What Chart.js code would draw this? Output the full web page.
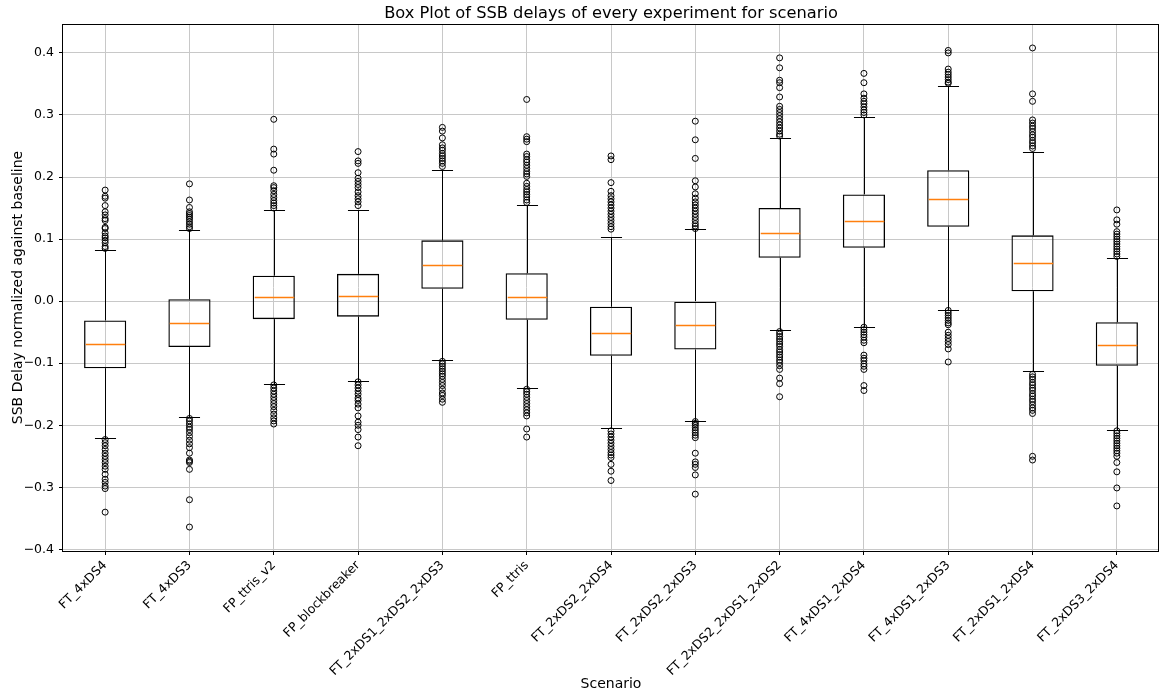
<!DOCTYPE html>
<html><head><meta charset="utf-8">
<script src="https://cdn.jsdelivr.net/npm/chart.js@4.4.1/dist/chart.umd.min.js"></script>
<style>html,body{margin:0;padding:0;background:#fff;}</style>
</head><body>
<canvas id="c" width="1164" height="693" style="display:block;width:1164px;height:693px"></canvas>
<script>
const categories = ["FT_4xDS4","FT_4xDS3","FP_ttris_v2","FP_blockbreaker","FT_2xDS1_2xDS2_2xDS3","FP_ttris","FT_2xDS2_2xDS4","FT_2xDS2_2xDS3","FT_2xDS2_2xDS1_2xDS2","FT_4xDS1_2xDS4","FT_4xDS1_2xDS3","FT_2xDS1_2xDS4","FT_2xDS3_2xDS4"];
const q1 = [-0.108,-0.074,-0.029,-0.025,0.020,-0.030,-0.088,-0.078,0.070,0.086,0.120,0.016,-0.104];
const median = [-0.069,-0.036,0.007,0.008,0.059,0.007,-0.051,-0.039,0.110,0.129,0.165,0.061,-0.070];
const q3 = [-0.031,0.003,0.041,0.044,0.098,0.045,-0.009,0.000,0.150,0.172,0.211,0.106,-0.034];
const whiskerLow = [-0.221,-0.187,-0.133,-0.128,-0.095,-0.140,-0.204,-0.193,-0.047,-0.041,-0.014,-0.113,-0.208];
const whiskerHigh = [0.082,0.114,0.147,0.147,0.211,0.155,0.104,0.116,0.263,0.297,0.347,0.241,0.070];
const outliersHigh = [
 [0.179,0.169,0.166,0.154,0.144,0.139,0.133,0.130,0.119,0.117,0.110,0.105,0.102,0.098,0.094,0.088,0.085],
 [0.189,0.163,0.151,0.144,0.141,0.138,0.135,0.132,0.128,0.124,0.120,0.117],
 [0.293,0.245,0.237,0.211,0.186,0.183,0.178,0.172,0.167,0.162,0.158,0.154,0.150],
 [0.241,0.226,0.222,0.207,0.198,0.193,0.188,0.183,0.176,0.170,0.165,0.160,0.154],
 [0.280,0.274,0.263,0.252,0.247,0.243,0.238,0.234,0.230,0.226,0.222,0.217],
 [0.325,0.265,0.261,0.257,0.237,0.233,0.228,0.224,0.219,0.214,0.209,0.205,0.201,0.190,0.185,0.180,0.176,0.172,0.168,0.163,0.159],
 [0.234,0.228,0.191,0.177,0.170,0.165,0.160,0.155,0.150,0.145,0.140,0.135,0.130,0.125,0.120,0.116],
 [0.290,0.260,0.230,0.194,0.184,0.173,0.166,0.160,0.155,0.150,0.145,0.140,0.135,0.130,0.125,0.121,0.117],
 [0.392,0.376,0.356,0.352,0.344,0.329,0.314,0.309,0.304,0.299,0.294,0.289,0.284,0.279,0.274,0.269,0.266],
 [0.367,0.352,0.334,0.327,0.322,0.318,0.313,0.308,0.304,0.300],
 [0.404,0.400,0.374,0.369,0.365,0.361,0.357,0.353,0.351],
 [0.408,0.334,0.322,0.292,0.287,0.282,0.278,0.273,0.268,0.264,0.259,0.255,0.250,0.246],
 [0.147,0.131,0.124,0.112,0.108,0.104,0.100,0.096,0.092,0.088,0.084,0.080,0.076,0.072]
];
const outliersLow = [
 [-0.223,-0.228,-0.233,-0.239,-0.245,-0.250,-0.255,-0.260,-0.266,-0.271,-0.279,-0.287,-0.292,-0.298,-0.302,-0.340],
 [-0.189,-0.193,-0.198,-0.203,-0.207,-0.212,-0.218,-0.224,-0.230,-0.236,-0.245,-0.256,-0.258,-0.260,-0.271,-0.320,-0.364],
 [-0.135,-0.140,-0.145,-0.150,-0.155,-0.160,-0.165,-0.170,-0.176,-0.182,-0.188,-0.193,-0.198],
 [-0.130,-0.135,-0.140,-0.145,-0.150,-0.156,-0.160,-0.166,-0.172,-0.185,-0.195,-0.200,-0.207,-0.219,-0.233],
 [-0.097,-0.101,-0.105,-0.109,-0.113,-0.117,-0.121,-0.126,-0.131,-0.136,-0.142,-0.148,-0.152,-0.158,-0.163],
 [-0.142,-0.146,-0.150,-0.155,-0.160,-0.165,-0.170,-0.175,-0.180,-0.185,-0.206,-0.219],
 [-0.209,-0.214,-0.219,-0.224,-0.229,-0.234,-0.239,-0.244,-0.248,-0.252,-0.263,-0.274,-0.289],
 [-0.194,-0.197,-0.200,-0.204,-0.208,-0.212,-0.216,-0.220,-0.245,-0.259,-0.263,-0.268,-0.280,-0.311],
 [-0.049,-0.053,-0.057,-0.061,-0.065,-0.069,-0.073,-0.078,-0.082,-0.086,-0.090,-0.095,-0.099,-0.104,-0.110,-0.124,-0.133,-0.154],
 [-0.042,-0.046,-0.050,-0.054,-0.058,-0.063,-0.067,-0.087,-0.092,-0.096,-0.101,-0.105,-0.110,-0.136,-0.144],
 [-0.015,-0.019,-0.023,-0.027,-0.031,-0.035,-0.038,-0.050,-0.055,-0.060,-0.065,-0.070,-0.077,-0.098],
 [-0.118,-0.122,-0.126,-0.131,-0.135,-0.140,-0.144,-0.149,-0.153,-0.158,-0.162,-0.167,-0.172,-0.176,-0.181,-0.250,-0.256],
 [-0.209,-0.213,-0.217,-0.221,-0.225,-0.229,-0.233,-0.237,-0.241,-0.245,-0.250,-0.260,-0.275,-0.301,-0.330]
];
const yTicks = [-0.4,-0.3,-0.2,-0.1,0.0,0.1,0.2,0.3,0.4];
const yMin = -0.4026, yMax = 0.4466;

const FONT = "'DejaVu Sans', sans-serif";
const boxData = categories.map((c, i) => [q1[i], q3[i]]);
const flierData = [];
categories.forEach((c, i) => {
  outliersHigh[i].concat(outliersLow[i]).forEach(v => flierData.push({x: c, y: v}));
});

const boxExtras = {
  id: 'boxExtras',
  afterDatasetsDraw(chart) {
    const {ctx, scales: {x, y}} = chart;
    const step = x.getPixelForValue(1) - x.getPixelForValue(0);
    const capHalf = step * 0.125, boxHalf = step * 0.25;
    ctx.save();
    ctx.lineWidth = 1;
    ctx.strokeStyle = '#000';
    categories.forEach((c, i) => {
      const cx = Math.round(x.getPixelForValue(i)) + 0.5;
      const yq1 = y.getPixelForValue(q1[i]), yq3 = y.getPixelForValue(q3[i]);
      const ylo = Math.round(y.getPixelForValue(whiskerLow[i])) + 0.5;
      const yhi = Math.round(y.getPixelForValue(whiskerHigh[i])) + 0.5;
      ctx.beginPath();
      ctx.moveTo(cx, yq3); ctx.lineTo(cx, yhi);
      ctx.moveTo(cx, yq1); ctx.lineTo(cx, ylo);
      ctx.moveTo(cx - capHalf, yhi); ctx.lineTo(cx + capHalf, yhi);
      ctx.moveTo(cx - capHalf, ylo); ctx.lineTo(cx + capHalf, ylo);
      ctx.stroke();
    });
    ctx.strokeStyle = '#ff7f0e';
    ctx.lineWidth = 1.5;
    categories.forEach((c, i) => {
      const cx = Math.round(x.getPixelForValue(i)) + 0.5;
      const ym = Math.round(y.getPixelForValue(median[i])) + 0.5;
      ctx.beginPath();
      ctx.moveTo(cx - boxHalf + 1.3, ym); ctx.lineTo(cx + boxHalf - 1.3, ym);
      ctx.stroke();
    });
    ctx.restore();
  },
  afterDraw(chart) {
    const {ctx, chartArea: a} = chart;
    ctx.save();
    ctx.strokeStyle = '#000';
    ctx.lineWidth = 1;
    ctx.strokeRect(Math.round(a.left) - 0.5, Math.round(a.top) + 0.5, Math.round(a.right - a.left), Math.round(a.bottom - a.top));
    ctx.restore();
  }
};

new Chart(document.getElementById('c'), {
  type: 'bar',
  data: {
    labels: categories,
    datasets: [
      {
        type: 'bar',
        data: boxData,
        backgroundColor: 'rgba(255,255,255,0)',
        borderColor: '#000',
        borderWidth: 1.3,
        borderSkipped: false,
        barPercentage: 0.5,
        categoryPercentage: 1.0,
        order: 2
      },
      {
        type: 'line',
        data: flierData,
        showLine: false,
        pointRadius: 3,
        pointBorderWidth: 1,
        pointBackgroundColor: 'rgba(0,0,0,0)',
        pointBorderColor: '#000',
        order: 1
      }
    ]
  },
  options: {
    responsive: false,
    animation: false,
    devicePixelRatio: 1,
    layout: {padding: {left: 0, right: 1, top: 0, bottom: 0}},
    plugins: {
      legend: {display: false},
      tooltip: {enabled: false},
      title: {
        display: true,
        fullSize: false,
        text: 'Box Plot of SSB delays of every experiment for scenario',
        color: '#000',
        font: {family: FONT, size: 16.25, weight: 'normal'},
        padding: {top: 4, bottom: 0.5}
      }
    },
    scales: {
      x: {
        type: 'category',
        offset: true,
        border: {display: false},
        grid: {display: true, offset: false, color: '#c8c8c8', lineWidth: 1, tickColor: '#000', tickLength: 4, drawTicks: true},
        ticks: {
          color: '#000', font: {family: FONT, size: 12.5},
          autoSkip: false, minRotation: 45, maxRotation: 45, padding: 3
        },
        title: {
          display: true, text: 'Scenario', color: '#000',
          font: {family: FONT, size: 14}, padding: {top: 1.6, bottom: 0}
        },
        afterFit(scale) { scale.height = 142; }
      },
      y: {
        type: 'linear',
        min: yMin, max: yMax,
        border: {display: false},
        grid: {color: '#c8c8c8', lineWidth: 1, tickColor: '#000', tickLength: 4},
        ticks: {
          color: '#000', font: {family: FONT, size: 12.5}, padding: 5,
          callback: (v) => Number(v).toFixed(1).replace('-', '\u2212')
        },
        afterBuildTicks(scale) { scale.ticks = yTicks.map(v => ({value: v})); },
        title: {
          display: true, text: 'SSB Delay normalized against baseline', color: '#000',
          font: {family: FONT, size: 14}, padding: {top: 9.6, bottom: 0}
        },
        afterFit(scale) { scale.width = 63; }
      }
    }
  },
  plugins: [boxExtras]
});
</script>
</body></html>
